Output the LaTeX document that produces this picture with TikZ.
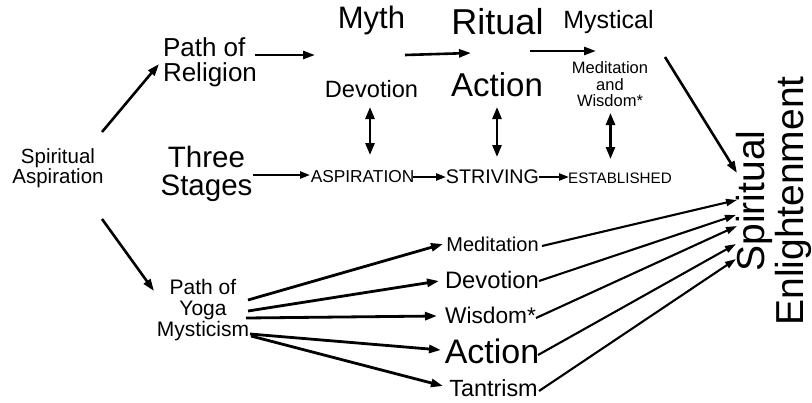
\documentclass[tikz,border=0pt]{standalone}
\usepackage{fontspec}
\setmainfont{Liberation Sans}
\usetikzlibrary{arrows.meta}
\newcommand\fsz[2]{\fontsize{#1}{#2}\selectfont}
\begin{document}
\begin{tikzpicture}[x=1pt,y=-1pt,
  lbl/.style={inner sep=0pt, outer sep=0pt},
  arr/.style={line width=2.6pt, -{Triangle[length=12pt,width=8pt]}},
  sarr/.style={line width=2.1pt, -{Triangle[length=11pt,width=7pt]}},
  dbl/.style={line width=2.6pt, {Triangle[length=12pt,width=9pt]}-{Triangle[length=12pt,width=9pt]}},
  stg/.style={line width=2.2pt, -{Triangle[length=10pt,width=7pt]}},
  fan/.style={line width=2.8pt, -{Triangle[length=12pt,width=8pt]}},
]
\useasboundingbox (0,0) rectangle (812,402);

% nodes
\node[lbl, align=center, font=\fsz{20.5}{20}] (asp) at (58,167.7) {Spiritual\\Aspiration};
\node[lbl, align=left, anchor=west, font=\fsz{26}{25}] (rel) at (163,62.7) {Path of\\Religion};
\node[lbl, align=center, font=\fsz{29.5}{28}] (three) at (206.5,173.4) {Three\\Stages};
\node[lbl, align=center, font=\fsz{21}{21}] (yoga) at (203,310.5) {Path of\\Yoga\\Mysticism};

\node[lbl, anchor=base, font=\fsz{31}{31}] (myth) at (371.5,28) {Myth};
\node[lbl, anchor=base, font=\fsz{36}{36}] (ritual) at (497.5,34) {Ritual};
\node[lbl, anchor=base, font=\fsz{25}{25}] (mystical) at (608.5,28) {Mystical};

\node[lbl, anchor=base, font=\fsz{23.6}{24}] (devU) at (371.5,97) {Devotion};
\node[lbl, anchor=base, font=\fsz{33}{33}] (actU) at (497,96) {Action};
\node[lbl, align=center, font=\fsz{16.5}{16.5}] (mws) at (610,84.5) {Meditation\\and\\Wisdom*};

\node[lbl, anchor=base, font=\fsz{17.3}{18}] (sASP) at (362.5,182) {ASPIRATION};
\node[lbl, anchor=base, font=\fsz{19.7}{20}] (sSTR) at (492.5,183) {STRIVING};
\node[lbl, anchor=base, font=\fsz{15.2}{16}] (sEST) at (620,183) {ESTABLISHED};

\node[lbl, anchor=base, font=\fsz{20}{20}] (med) at (492.5,251) {Meditation};
\node[lbl, anchor=base, font=\fsz{23.8}{24}] (dev) at (492,288) {Devotion};
\node[lbl, anchor=base, font=\fsz{22.7}{23}] (wis) at (490.5,323) {Wisdom*};
\node[lbl, anchor=base, font=\fsz{34}{34}] (act) at (492,363) {Action};
\node[lbl, anchor=base, font=\fsz{23.4}{24}] (tan) at (493.5,396) {Tantrism};

\node[lbl, align=center, rotate=90, font=\fsz{39}{39}] (SE) at (774,201) {Spiritual\\Enlightenment};

% connectors
\draw[arr] ([shift={(44,-35.7)}]asp.center) -- ([shift={(-4,1.3)}]rel.west);
\draw[arr] ([shift={(44,51.3)}]asp.center) -- ([shift={(-49,-19.5)}]yoga.center);

\draw[arr] ([shift={(92,-7.7)}]rel.west) -- ([shift={(-56.5,27)}]myth.base);
\draw[arr] ([shift={(33.5,27)}]myth.base) -- ([shift={(-26.5,19)}]ritual.base);
\draw[arr] ([shift={(32.5,17)}]ritual.base) -- ([shift={(-12.5,23)}]mystical.base);
\draw[arr] ([shift={(56.5,29)}]mystical.base) -- ([shift={(-37,-28)}]SE.center);

\draw[dbl] ([shift={(-1.5,10)}]devU.base) -- ([shift={(7.5,-27)}]sASP.base);
\draw[dbl] ([shift={(0,11)}]actU.base) -- ([shift={(4.5,-26)}]sSTR.base);
\draw[dbl] ([shift={(0.5,28.5)}]mws.center) -- ([shift={(-9.5,-24)}]sEST.base);

\draw[stg] ([shift={(46.5,1.6)}]three.center) -- ([shift={(-52.5,-7)}]sASP.base);
\draw[stg] ([shift={(50.5,-5)}]sASP.base) -- ([shift={(-46.5,-6)}]sSTR.base);
\draw[stg] ([shift={(46.5,-6)}]sSTR.base) -- ([shift={(-51,-6)}]sEST.base);

\draw[fan] ([shift={(45,-10.5)}]yoga.center) -- ([shift={(-49.5,-7)}]med.base);
\draw[fan] ([shift={(45,0.5)}]yoga.center) -- ([shift={(-53,-7)}]dev.base);
\draw[fan] ([shift={(43,7.5)}]yoga.center) -- ([shift={(-53.5,-7)}]wis.base);
\draw[fan] ([shift={(47,23.5)}]yoga.center) -- ([shift={(-51,-13)}]act.base);
\draw[fan] ([shift={(48,25.5)}]yoga.center) -- ([shift={(-50.5,-10)}]tan.base);

\draw[sarr] ([shift={(49.5,-5)}]med.base) -- ([shift={(-37,-1)}]SE.center);
\draw[sarr] ([shift={(47,-7)}]dev.base) -- ([shift={(-38,14)}]SE.center);
\draw[sarr] ([shift={(45.5,-5)}]wis.base) -- ([shift={(-37,25)}]SE.center);
\draw[sarr] ([shift={(46,-8)}]act.base) -- ([shift={(-38,43)}]SE.center);
\draw[sarr] ([shift={(45.5,-5)}]tan.base) -- ([shift={(-38,58)}]SE.center);
\end{tikzpicture}
\end{document}
